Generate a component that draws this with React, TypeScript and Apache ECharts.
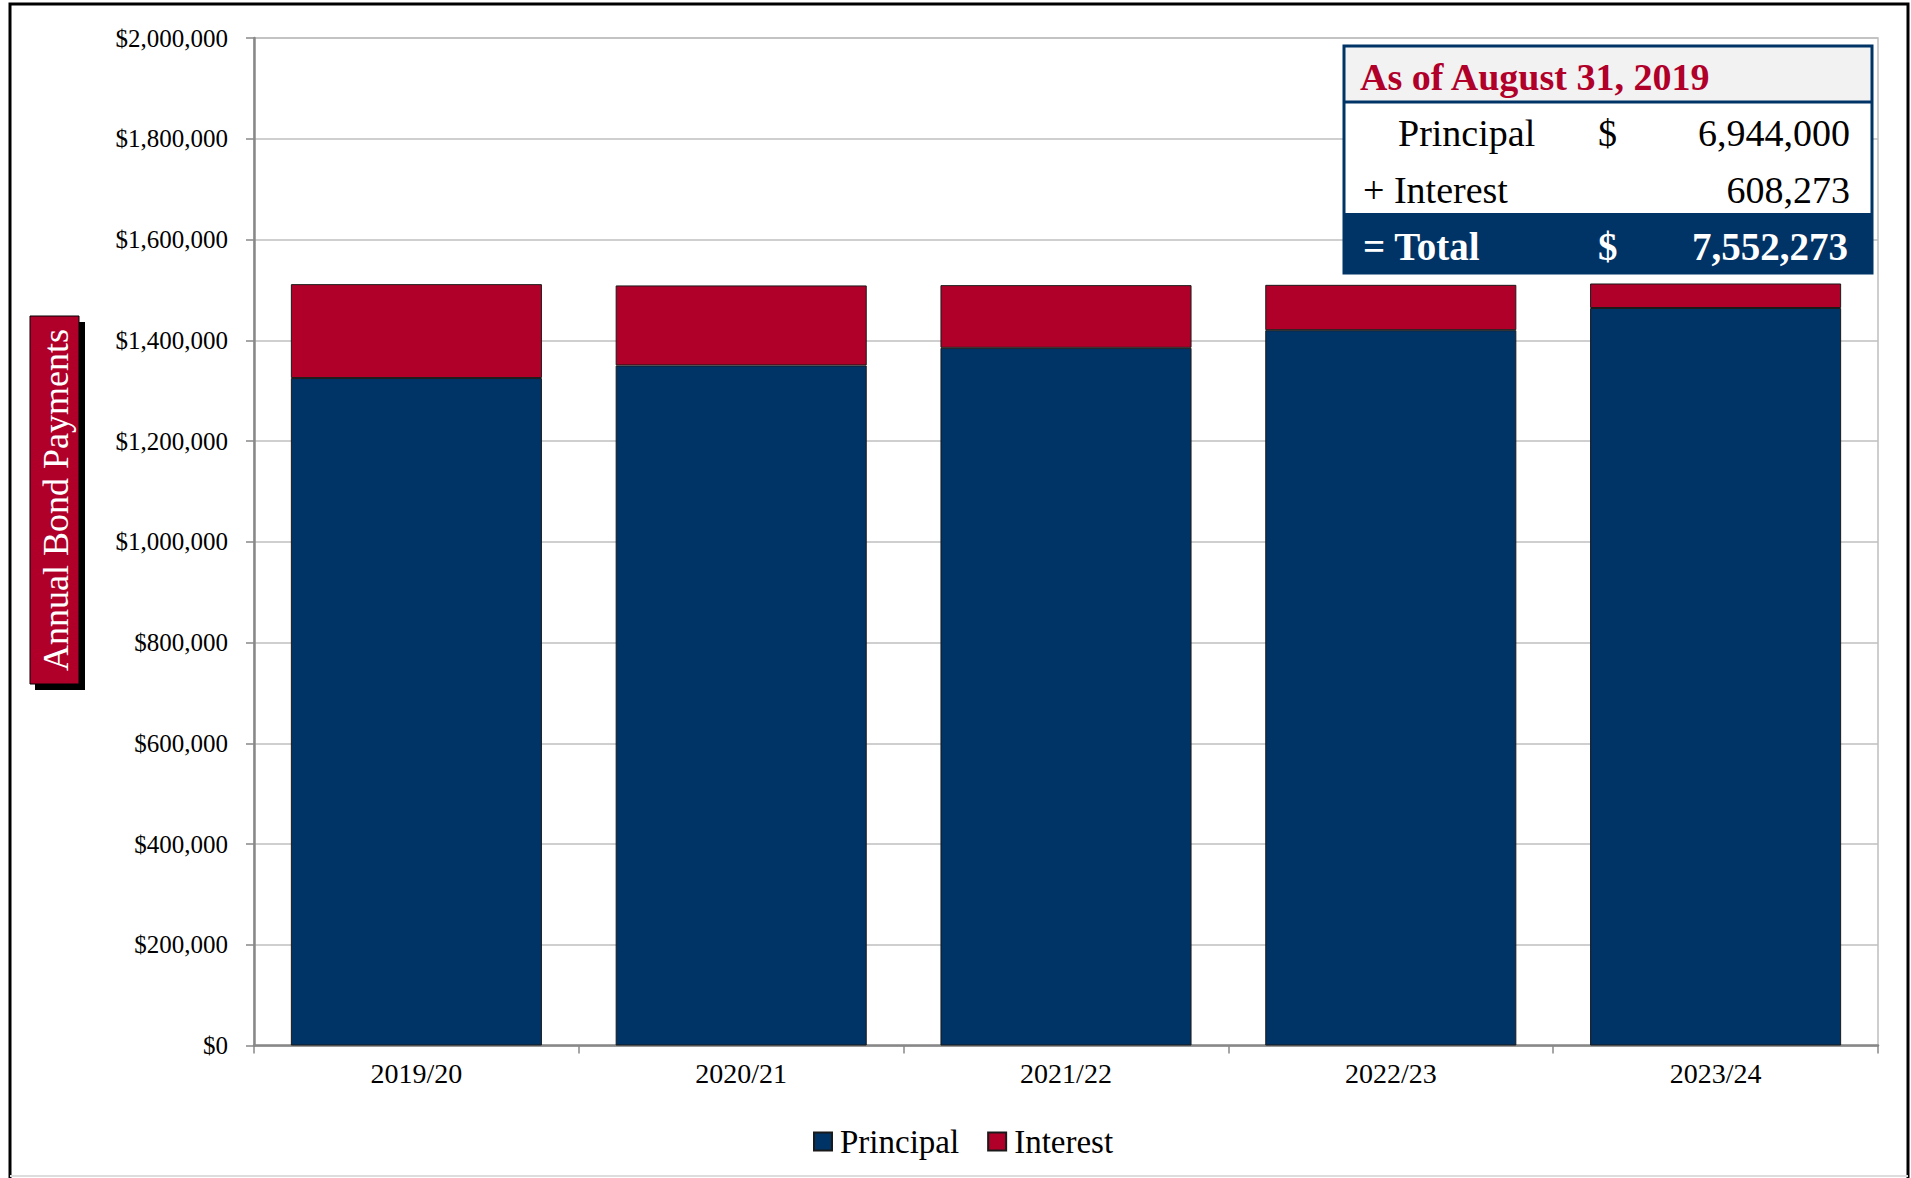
import React, { useEffect, useRef } from "react";
import * as echarts from "echarts";

const categories = ["2019/20", "2020/21", "2021/22", "2022/23", "2023/24"];
const principal = [1325000, 1350000, 1385000, 1420000, 1464000];
const interest = [186400, 158800, 124400, 90000, 48673];
const seriesNames = ["Principal", "Interest"];
const yMin = 0;
const yMax = 2000000;
const yInterval = 200000;
const asOfTitle = "As of August 31, 2019";
const axisTitle = "Annual Bond Payments";

const NAVY = "#003366";
const CRIMSON = "#B0002A";
const FONT = "'Liberation Serif', 'Times New Roman', serif";

const fmt = (v: number) => v.toLocaleString("en-US");

export default function App() {
  const ref = useRef<HTMLDivElement>(null);
  useEffect(() => {
    if (!ref.current) return;
    const chart = echarts.init(ref.current, undefined, { renderer: "svg" });
    const totalP = principal.reduce((a, b) => a + b, 0);
    const totalI = interest.reduce((a, b) => a + b, 0);
    const total = totalP + totalI;

    const txt = (
      text: string,
      x: number,
      y: number,
      opts: { size?: number; bold?: boolean; color?: string; align?: string; rotation?: number } = {}
    ) => ({
      type: "text",
      x,
      y,
      rotation: opts.rotation || 0,
      z: 110,
      style: {
        text,
        fill: opts.color || "#000",
        fontSize: opts.size || 38,
        fontFamily: FONT,
        fontWeight: opts.bold ? "bold" : "normal",
        align: opts.align || "left",
        textAlign: opts.align || "left",
        verticalAlign: "middle",
        textVerticalAlign: "middle",
      },
    });

    chart.setOption({
      animation: false,
      backgroundColor: "#fff",
      textStyle: { fontFamily: FONT },
      grid: {
        left: 254,
        right: 33,
        top: 38,
        bottom: 132.5,
        containLabel: false,
        show: true,
        borderColor: "#BFBFBF",
        borderWidth: 1.5,
      },
      legend: {
        left: 813,
        top: 1125,
        padding: 0,
        itemWidth: 18,
        itemHeight: 18,
        itemGap: 28,
        icon: "rect",
        data: seriesNames,
        textStyle: { fontSize: 33, fontFamily: FONT, color: "#000", padding: [0, 0, 0, 3] },
      },
      xAxis: {
        type: "category",
        data: categories,
        axisLine: { show: true, lineStyle: { color: "#888", width: 2.5 } },
        axisTick: { show: true, length: 8, alignWithLabel: false, lineStyle: { color: "#888", width: 1.5 } },
        axisLabel: { fontSize: 28, fontFamily: FONT, color: "#000", margin: 14 },
      },
      yAxis: {
        type: "value",
        min: yMin,
        max: yMax,
        interval: yInterval,
        axisLine: { show: true, lineStyle: { color: "#888", width: 2.5 } },
        axisTick: { show: true, length: 8, lineStyle: { color: "#888", width: 1.5 } },
        splitLine: { show: true, lineStyle: { color: "#BFBFBF", width: 1.5 } },
        axisLabel: {
          fontSize: 25,
          fontFamily: FONT,
          color: "#000",
          margin: 26,
          formatter: (v: number) => "$" + fmt(v),
        },
      },
      series: [
        {
          name: seriesNames[0],
          type: "bar",
          stack: "total",
          data: principal,
          barCategoryGap: "22.7%",
          itemStyle: { color: NAVY, borderColor: "#1a1a1a", borderWidth: 1 },
        },
        {
          name: seriesNames[1],
          type: "bar",
          stack: "total",
          data: interest,
          barCategoryGap: "22.7%",
          itemStyle: { color: CRIMSON, borderColor: "#1a1a1a", borderWidth: 1 },
        },
      ],
      graphic: [
        {
          type: "rect",
          z: 120,
          shape: { x: 10, y: 4, width: 1898, height: 1190 },
          style: { fill: "none", stroke: "#000", lineWidth: 3 },
        },
        {
          type: "line",
          z: 120,
          shape: { x1: 10, y1: 1176, x2: 1908, y2: 1176 },
          style: { stroke: "#DDDDDD", lineWidth: 2 },
        },
        {
          type: "rect",
          z: 105,
          shape: { x: 35, y: 322, width: 50, height: 368 },
          style: { fill: "#000" },
        },
        {
          type: "rect",
          z: 106,
          shape: { x: 30, y: 316, width: 49, height: 368 },
          style: { fill: CRIMSON, stroke: "#000", lineWidth: 1 },
        },
        txt(axisTitle, 56, 500, { size: 36, color: "#fff", align: "center", rotation: Math.PI / 2 }),
        {
          type: "rect",
          z: 100,
          shape: { x: 1344, y: 46, width: 528, height: 56 },
          style: { fill: "#F2F2F2" },
        },
        {
          type: "rect",
          z: 100,
          shape: { x: 1344, y: 102, width: 528, height: 111 },
          style: { fill: "#FFFFFF" },
        },
        {
          type: "rect",
          z: 100,
          shape: { x: 1344, y: 213, width: 528, height: 60 },
          style: { fill: NAVY },
        },
        {
          type: "line",
          z: 101,
          shape: { x1: 1344, y1: 102, x2: 1872, y2: 102 },
          style: { stroke: NAVY, lineWidth: 3 },
        },
        {
          type: "rect",
          z: 101,
          shape: { x: 1344, y: 46, width: 528, height: 227 },
          style: { fill: "none", stroke: NAVY, lineWidth: 3 },
        },
        txt(asOfTitle, 1360, 77, { size: 38, bold: true, color: CRIMSON }),
        txt(seriesNames[0], 1398, 133),
        txt("$", 1598, 133),
        txt(fmt(totalP), 1850, 133, { align: "right" }),
        txt("+ " + seriesNames[1], 1363, 190),
        txt(fmt(totalI), 1850, 190, { align: "right" }),
        txt("= Total", 1363, 246, { size: 39, bold: true, color: "#fff" }),
        txt("$", 1598, 246, { size: 39, bold: true, color: "#fff" }),
        txt(fmt(total), 1848, 246, { size: 39, bold: true, color: "#fff", align: "right" }),
      ],
    });
    return () => chart.dispose();
  }, []);
  return (
    <div
      ref={ref}
      style={{ position: "absolute", left: 0, top: 0, width: 1911, height: 1178, background: "#fff" }}
    />
  );
}
